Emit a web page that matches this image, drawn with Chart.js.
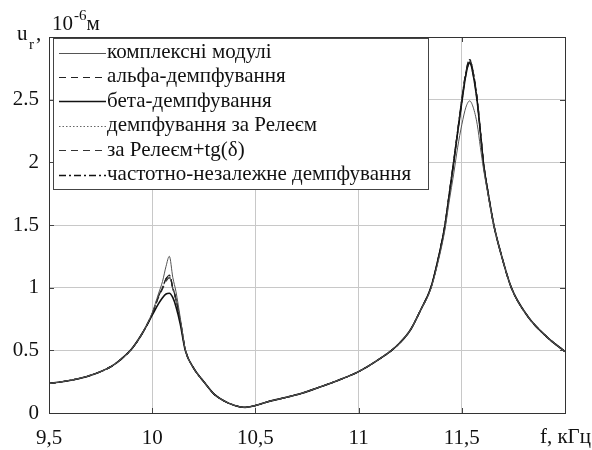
<!DOCTYPE html>
<html>
<head>
<meta charset="utf-8">
<script src="https://cdn.jsdelivr.net/npm/chart.js@4"></script>
<style>
  html, body { margin: 0; padding: 0; background: #fff; }
  #wrap { width: 592px; height: 450px; }
</style>
</head>
<body>
<div id="wrap"><canvas id="chart" width="592" height="450"></canvas></div>
<script>
// frequency, kHz
const freq = [9.5, 9.6, 9.7, 9.8, 9.85, 9.9, 9.95, 10.0, 10.03, 10.05, 10.067, 10.083, 10.1, 10.115, 10.136, 10.16,
  10.2, 10.25, 10.3, 10.35, 10.4, 10.45, 10.5, 10.56, 10.65, 10.72, 10.8, 10.9, 11.0, 11.1, 11.16, 11.2, 11.25, 11.3,
  11.35, 11.38, 11.418, 11.44, 11.46, 11.48, 11.5, 11.52, 11.538, 11.555, 11.575, 11.59, 11.605, 11.625, 11.655, 11.69,
  11.74, 11.82, 11.91, 12.0];

// u_r, 10^-6 m
const kompleksni = [0.235, 0.26, 0.30, 0.37, 0.43, 0.51, 0.63, 0.80, 0.95, 1.05, 1.17, 1.25, 1.08, 0.97, 0.76, 0.51,
  0.36, 0.25, 0.15, 0.095, 0.06, 0.045, 0.06, 0.09, 0.125, 0.155, 0.20, 0.26, 0.33, 0.43, 0.50, 0.56, 0.66, 0.82,
  0.99, 1.17, 1.46, 1.7, 1.9, 2.12, 2.3, 2.44, 2.49, 2.44, 2.3, 2.12, 1.95, 1.76, 1.5, 1.27,
  1.0, 0.77, 0.61, 0.49];
const alfa = [0.235, 0.26, 0.30, 0.37, 0.43, 0.51, 0.63, 0.79, 0.93, 1.0, 1.07, 1.10, 1.0, 0.91, 0.74, 0.51,
  0.36, 0.25, 0.15, 0.095, 0.06, 0.045, 0.06, 0.09, 0.125, 0.155, 0.20, 0.26, 0.33, 0.43, 0.50, 0.56, 0.66, 0.82,
  1.0, 1.19, 1.5, 1.76, 2.0, 2.25, 2.5, 2.72, 2.82, 2.72, 2.5, 2.25, 2.0, 1.78, 1.5, 1.27,
  1.0, 0.77, 0.61, 0.49];
const beta = [0.235, 0.26, 0.30, 0.37, 0.43, 0.51, 0.63, 0.78, 0.87, 0.92, 0.95, 0.955, 0.92, 0.85, 0.71, 0.50,
  0.36, 0.25, 0.15, 0.095, 0.06, 0.045, 0.06, 0.09, 0.125, 0.155, 0.20, 0.26, 0.33, 0.43, 0.50, 0.56, 0.66, 0.82,
  1.0, 1.19, 1.49, 1.75, 1.99, 2.24, 2.48, 2.7, 2.8, 2.7, 2.48, 2.24, 1.99, 1.78, 1.5, 1.27,
  1.0, 0.77, 0.61, 0.49];
const reley = [0.235, 0.26, 0.30, 0.37, 0.43, 0.51, 0.63, 0.79, 0.93, 1.0, 1.06, 1.09, 1.0, 0.91, 0.74, 0.51,
  0.36, 0.25, 0.15, 0.095, 0.06, 0.045, 0.06, 0.09, 0.125, 0.155, 0.20, 0.26, 0.33, 0.43, 0.50, 0.56, 0.66, 0.82,
  1.0, 1.19, 1.5, 1.76, 2.0, 2.25, 2.49, 2.71, 2.81, 2.71, 2.49, 2.25, 2.0, 1.78, 1.5, 1.27,
  1.0, 0.77, 0.61, 0.49];
const releyTg = [0.235, 0.26, 0.30, 0.37, 0.43, 0.51, 0.63, 0.79, 0.92, 0.99, 1.05, 1.08, 0.99, 0.90, 0.74, 0.51,
  0.36, 0.25, 0.15, 0.095, 0.06, 0.045, 0.06, 0.09, 0.125, 0.155, 0.20, 0.26, 0.33, 0.43, 0.50, 0.56, 0.66, 0.82,
  1.0, 1.19, 1.5, 1.75, 1.99, 2.24, 2.48, 2.7, 2.79, 2.7, 2.48, 2.24, 1.99, 1.78, 1.5, 1.27,
  1.0, 0.77, 0.61, 0.49];
const nezalezhne = [0.235, 0.26, 0.30, 0.37, 0.43, 0.51, 0.63, 0.79, 0.93, 1.0, 1.07, 1.10, 1.0, 0.91, 0.74, 0.51,
  0.36, 0.25, 0.15, 0.095, 0.06, 0.045, 0.06, 0.09, 0.125, 0.155, 0.20, 0.26, 0.33, 0.43, 0.50, 0.56, 0.66, 0.82,
  1.0, 1.19, 1.5, 1.76, 2.0, 2.25, 2.5, 2.72, 2.82, 2.72, 2.5, 2.25, 2.0, 1.78, 1.5, 1.27,
  1.0, 0.77, 0.61, 0.49];

const xTicks = [9.5, 10, 10.5, 11, 11.5, 12];
const xTickLabels = ['9,5', '10', '10,5', '11', '11,5', ''];
const yTickLabels = ['0', '0.5', '1', '1.5', '2', '2.5', ''];

const FONT = '"Liberation Serif", "Times New Roman", serif';

function pts(ys) {
  return freq.map((f, i) => ({ x: f, y: ys[i] }));
}

const series = [
  { label: 'комплексні модулі', values: kompleksni, color: '#555', width: 1, dash: [] },
  { label: 'альфа-демпфування', values: alfa, color: '#222', width: 1.2, dash: [7, 5] },
  { label: 'бета-демпфування', values: beta, color: '#111', width: 1.6, dash: [] },
  { label: 'демпфування за Релеєм', values: reley, color: '#666', width: 1, dash: [1.5, 2] },
  { label: 'за Релеєм+tg(δ)', values: releyTg, color: '#333', width: 1.2, dash: [7, 5] },
  { label: 'частотно-незалежне демпфування', values: nezalezhne, color: '#111', width: 1.4, dash: [7, 3, 2, 3] }
];

// legend, border, inner ticks and axis titles
const decor = {
  id: 'decor',
  afterDraw(c) {
    const ctx = c.ctx;
    const a = c.chartArea;
    const xs = c.scales.x, ys = c.scales.y;
    ctx.save();
    // inner tick marks
    ctx.strokeStyle = '#444';
    ctx.lineWidth = 1;
    ctx.setLineDash([]);
    ctx.beginPath();
    xTicks.forEach(v => {
      const px = Math.round(xs.getPixelForValue(v)) + 0.5;
      ctx.moveTo(px, a.bottom); ctx.lineTo(px, a.bottom - 5);
      ctx.moveTo(px, a.top); ctx.lineTo(px, a.top + 5);
    });
    for (let v = 0; v <= 3; v += 0.5) {
      const py = Math.round(ys.getPixelForValue(v)) + 0.5;
      ctx.moveTo(a.left, py); ctx.lineTo(a.left + 5, py);
      ctx.moveTo(a.right, py); ctx.lineTo(a.right - 5, py);
    }
    ctx.stroke();
    // box
    ctx.strokeStyle = '#333';
    ctx.strokeRect(Math.round(a.left) + 0.5, Math.round(a.top) + 0.5,
      Math.round(a.right - a.left), Math.round(a.bottom - a.top));

    // legend
    const lx = a.left + 4, ly = a.top + 1, lw = 375, lh = 151;
    ctx.fillStyle = '#fff';
    ctx.fillRect(lx, ly, lw, lh);
    ctx.strokeStyle = '#444';
    ctx.strokeRect(Math.round(lx) + 0.5, Math.round(ly) + 0.5, lw, lh);
    ctx.font = '21px ' + FONT;
    ctx.textBaseline = 'middle';
    ctx.textAlign = 'left';
    c.data.datasets.forEach((d, i) => {
      const y = ly + 14.5 + i * 24.4;
      ctx.strokeStyle = d.borderColor;
      ctx.lineWidth = d.borderWidth;
      ctx.setLineDash(d.borderDash);
      ctx.beginPath();
      ctx.moveTo(lx + 6, Math.round(y) + 0.5);
      ctx.lineTo(lx + 53, Math.round(y) + 0.5);
      ctx.stroke();
      ctx.fillStyle = '#111';
      ctx.fillText(d.label, lx + 54, y);
    });
    ctx.setLineDash([]);

    // x axis title at the last tick
    ctx.fillStyle = '#111';
    ctx.textAlign = 'right';
    ctx.fillText('f, кГц', 591, 437);

    // y axis title: u_r, 10^-6 м
    ctx.textAlign = 'left';
    ctx.textBaseline = 'alphabetic';
    ctx.font = '21px ' + FONT;
    ctx.fillText('u', 17, 40);
    ctx.font = '15px ' + FONT;
    ctx.fillText('r', 29, 49);
    ctx.font = '21px ' + FONT;
    ctx.fillText(',', 36, 40);
    ctx.fillText('10', 52, 30);
    let x = 52 + ctx.measureText('10').width + 1;
    ctx.font = '15px ' + FONT;
    ctx.fillText('-6', x, 20);
    x += ctx.measureText('-6').width;
    ctx.font = '21px ' + FONT;
    ctx.fillText('м', x, 30);
    ctx.restore();
  }
};

new Chart(document.getElementById('chart').getContext('2d'), {
  type: 'line',
  data: {
    datasets: series.map(s => ({
      label: s.label,
      data: pts(s.values),
      borderColor: s.color,
      borderWidth: s.width,
      borderDash: s.dash,
      pointRadius: 0,
      fill: false,
      cubicInterpolationMode: 'monotone'
    }))
  },
  options: {
    responsive: false,
    animation: false,
    layout: { padding: { top: 37, right: 27, left: 0, bottom: 0 } },
    plugins: { legend: { display: false }, tooltip: { enabled: false } },
    scales: {
      x: {
        type: 'linear',
        min: 9.5,
        max: 12,
        afterBuildTicks: s => { s.ticks = xTicks.map(v => ({ value: v })); },
        afterFit: s => { s.height = 37; },
        grid: { color: '#c8c8c8', lineWidth: 1, drawTicks: false },
        border: { display: false },
        ticks: {
          padding: 13,
          maxRotation: 0,
          autoSkip: false,
          color: '#111',
          font: { family: FONT, size: 21 },
          callback: (v, i) => xTickLabels[i]
        }
      },
      y: {
        min: 0,
        max: 3,
        afterBuildTicks: s => { s.ticks = yTickLabels.map((t, i) => ({ value: i * 0.5 })); },
        afterFit: s => { s.width = 49; },
        grid: { color: '#c8c8c8', lineWidth: 1, drawTicks: false },
        border: { display: false },
        ticks: {
          padding: 10,
          color: '#111',
          font: { family: FONT, size: 21 },
          callback: (v, i) => yTickLabels[i]
        }
      }
    }
  },
  plugins: [decor]
});
</script>
</body>
</html>
